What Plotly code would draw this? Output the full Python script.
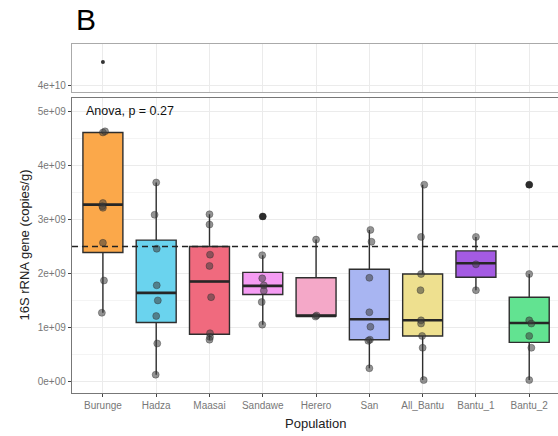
import plotly.graph_objects as go

# ---------------- data ----------------
populations = ["Burunge", "Hadza", "Maasai", "Sandawe", "Herero", "San",
               "All_Bantu", "Bantu_1", "Bantu_2"]

# box statistics (copies/g)
q1 = [2.39e9, 1.09e9, 0.87e9, 1.61e9, 1.21e9, 0.77e9, 0.84e9, 1.93e9, 0.72e9]
median = [3.28e9, 1.64e9, 1.85e9, 1.77e9, 1.21e9, 1.15e9, 1.13e9, 2.19e9, 1.08e9]
q3 = [4.62e9, 2.62e9, 2.50e9, 2.02e9, 1.92e9, 2.08e9, 1.99e9, 2.42e9, 1.56e9]
lower_whisker = [1.27e9, 0.12e9, 0.77e9, 1.05e9, 1.21e9, 0.24e9, 0.02e9, 1.69e9, 0.02e9]
upper_whisker = [4.62e9, 3.69e9, 3.10e9, 2.34e9, 2.63e9, 2.81e9, 3.65e9, 2.68e9, 1.99e9]

# individual samples (copies/g)
samples = {
    "Burunge": [4.62e9, 4.64e9, 3.31e9, 3.25e9, 3.22e9, 2.57e9, 1.87e9, 1.27e9],
    "Hadza": [3.69e9, 3.09e9, 2.46e9, 1.78e9, 1.50e9, 1.21e9, 0.70e9, 0.12e9],
    "Maasai": [3.10e9, 2.91e9, 2.35e9, 2.14e9, 1.56e9, 0.89e9, 0.82e9, 0.77e9],
    "Sandawe": [3.06e9, 2.34e9, 1.91e9, 1.78e9, 1.68e9, 1.47e9, 1.05e9],
    "Herero": [2.63e9, 1.22e9, 1.20e9],
    "San": [2.81e9, 2.59e9, 1.92e9, 1.28e9, 1.01e9, 0.77e9, 0.75e9, 0.24e9],
    "All_Bantu": [3.65e9, 2.68e9, 1.99e9, 1.69e9, 1.13e9, 1.07e9, 0.84e9, 0.62e9, 0.02e9],
    "Bantu_1": [2.68e9, 2.17e9, 1.69e9],
    "Bantu_2": [3.65e9, 1.99e9, 1.13e9, 1.07e9, 0.84e9, 0.62e9, 0.02e9],
}
# small horizontal jitter (category units)
jitter = {
    "Burunge": [0.0, 0.04, 0.0, -0.01, 0.0, 0.0, 0.02, -0.02],
    "Hadza": [0.0, -0.03, 0.01, 0.01, 0.03, 0.0, 0.02, -0.01],
    "Maasai": [0.0, 0.0, 0.01, 0.0, 0.03, 0.01, 0.01, 0.0],
    "Sandawe": [0.0, -0.01, -0.01, 0.02, 0.02, -0.02, -0.01],
    "Herero": [0.0, 0.01, -0.01],
    "San": [0.02, 0.04, 0.0, 0.0, 0.02, 0.01, -0.02, 0.0],
    "All_Bantu": [0.03, -0.03, -0.03, -0.04, -0.03, -0.03, -0.01, 0.0, 0.02],
    "Bantu_1": [0.0, 0.0, 0.0],
    "Bantu_2": [0.0, 0.0, 0.0, 0.04, 0.0, 0.04, 0.0],
}
# boxplot outliers
outlier_pop = ["Sandawe", "Bantu_2"]
outlier_val = [3.06e9, 3.65e9]
top_outlier_pop = ["Burunge"]
top_outlier_val = [4.45e10]

threshold = 2.5e9
anova_label = "Anova, p = 0.27"
y_ticks = [0, 1e9, 2e9, 3e9, 4e9, 5e9]
y_ticklabels = ["0e+00", "1e+09", "2e+09", "3e+09", "4e+09", "5e+09"]

colors = ["#FBA84A", "#6AD3EE", "#F06A7E", "#F59CF3", "#F4A8C8",
          "#A8B5F2", "#EEE08F", "#A45BE3", "#62E391"]

# ---------------- figure ----------------
fig = go.Figure()
idx = {p: i for i, p in enumerate(populations)}
box_w = 0.75

for i, p in enumerate(populations):
    fig.add_trace(go.Box(
        x=[i], q1=[q1[i]], median=[median[i]], q3=[q3[i]],
        lowerfence=[lower_whisker[i]], upperfence=[upper_whisker[i]],
        width=box_w, fillcolor=colors[i], boxpoints=False, whiskerwidth=0,
        line=dict(color="#2e2e2e", width=1.4), showlegend=False,
        xaxis="x", yaxis="y", hoverinfo="skip"))
    fig.add_trace(go.Scatter(
        x=[i - box_w / 2, i + box_w / 2], y=[median[i], median[i]],
        mode="lines", line=dict(color="#262626", width=2.6),
        showlegend=False, hoverinfo="skip", xaxis="x", yaxis="y"))

fig.add_trace(go.Scatter(
    x=[idx[p] for p in outlier_pop], y=outlier_val, mode="markers",
    marker=dict(color="#1a1a1a", size=7), showlegend=False,
    xaxis="x", yaxis="y"))

for p in populations:
    xs = [idx[p] + j for j in jitter[p]]
    fig.add_trace(go.Scatter(
        x=xs, y=samples[p], mode="markers",
        marker=dict(color="rgba(60,60,60,0.55)", size=7,
                    line=dict(color="rgba(40,40,40,0.6)", width=0.6)),
        showlegend=False, xaxis="x", yaxis="y"))

fig.add_trace(go.Scatter(
    x=[idx[p] for p in top_outlier_pop], y=top_outlier_val, mode="markers",
    marker=dict(color="#333333", size=4), showlegend=False,
    xaxis="x2", yaxis="y2"))

xrange = [-0.58, 8.54]
FONT = "Liberation Sans, Arial, sans-serif"
tickfont = dict(family=FONT, size=10, color="#777777")

fig.update_layout(
    width=558, height=436,
    margin=dict(l=72, r=0, t=44, b=43),
    paper_bgcolor="white", plot_bgcolor="white",
    font=dict(family=FONT, color="#222222"),
    xaxis=dict(domain=[0, 1], range=xrange, tickmode="array",
               tickvals=list(range(len(populations))), ticktext=populations,
               tickfont=tickfont, ticks="outside", ticklen=3, tickcolor="#444",
               showgrid=True, gridcolor="#EBEBEB", gridwidth=1, zeroline=False,
               showline=True, linecolor="#777777", linewidth=1.3, mirror=True,
               automargin=False, anchor="y"),
    yaxis=dict(domain=[0, 0.8453], range=[-0.22e9, 5.26e9],
               tickmode="array", tickvals=y_ticks, ticktext=y_ticklabels,
               tickfont=tickfont, ticks="outside", ticklen=3, tickcolor="#444",
               showgrid=True, gridcolor="#EBEBEB", gridwidth=1, zeroline=False,
               minor=dict(tickmode="array",
                          tickvals=[0.5e9, 1.5e9, 2.5e9, 3.5e9, 4.5e9],
                          showgrid=True, gridcolor="#F4F4F4", gridwidth=0.6),
               showline=True, linecolor="#777777", linewidth=1.3, mirror=True,
               automargin=False, anchor="x"),
    xaxis2=dict(domain=[0, 1], range=xrange,
                tickvals=list(range(len(populations))), showticklabels=False,
                ticks="", showgrid=True, gridcolor="#EBEBEB", zeroline=False,
                showline=True, linecolor="#AAAAAA", linewidth=1.2, mirror=True,
                automargin=False, anchor="y2"),
    yaxis2=dict(domain=[0.8625, 1], range=[3.8875e10, 4.7875e10],
                tickmode="array", tickvals=[4e10], ticktext=["4e+10"],
                tickfont=tickfont, ticks="outside", ticklen=3, tickcolor="#444",
                showgrid=True, gridcolor="#EBEBEB", zeroline=False,
                showline=True, linecolor="#AAAAAA", linewidth=1.2, mirror=True,
                automargin=False, anchor="x2"),
    shapes=[dict(type="line", xref="x domain", yref="y", x0=0, x1=1,
                 y0=threshold, y1=threshold,
                 line=dict(color="#222222", width=1.5, dash="6px,4px"))],
    annotations=[
        dict(text=anova_label, xref="x domain", yref="y domain", x=0.025, y=0.985,
             xanchor="left", yanchor="top", showarrow=False,
             font=dict(size=12.5, color="#111")),
        dict(text="B", xref="paper", yref="paper", x=0.005, y=1.0, yshift=6,
             xanchor="left", yanchor="bottom", showarrow=False,
             font=dict(size=30, color="#000")),
        dict(text="Population", xref="paper", yref="paper", x=0.5, y=-0.086,
             xanchor="center", yanchor="middle", showarrow=False,
             font=dict(size=13, color="#222")),
        dict(text="16S rRNA gene (copies/g)", xref="paper", yref="paper",
             x=-0.0967, y=0.4226, xanchor="center", yanchor="middle",
             textangle=-90, showarrow=False,
             font=dict(size=13, color="#222")),
    ],
)

fig.write_html("out.html",
               config={"displayModeBar": False},
               post_script="document.body.style.margin='0';"
                           "document.body.style.overflow='hidden';")
